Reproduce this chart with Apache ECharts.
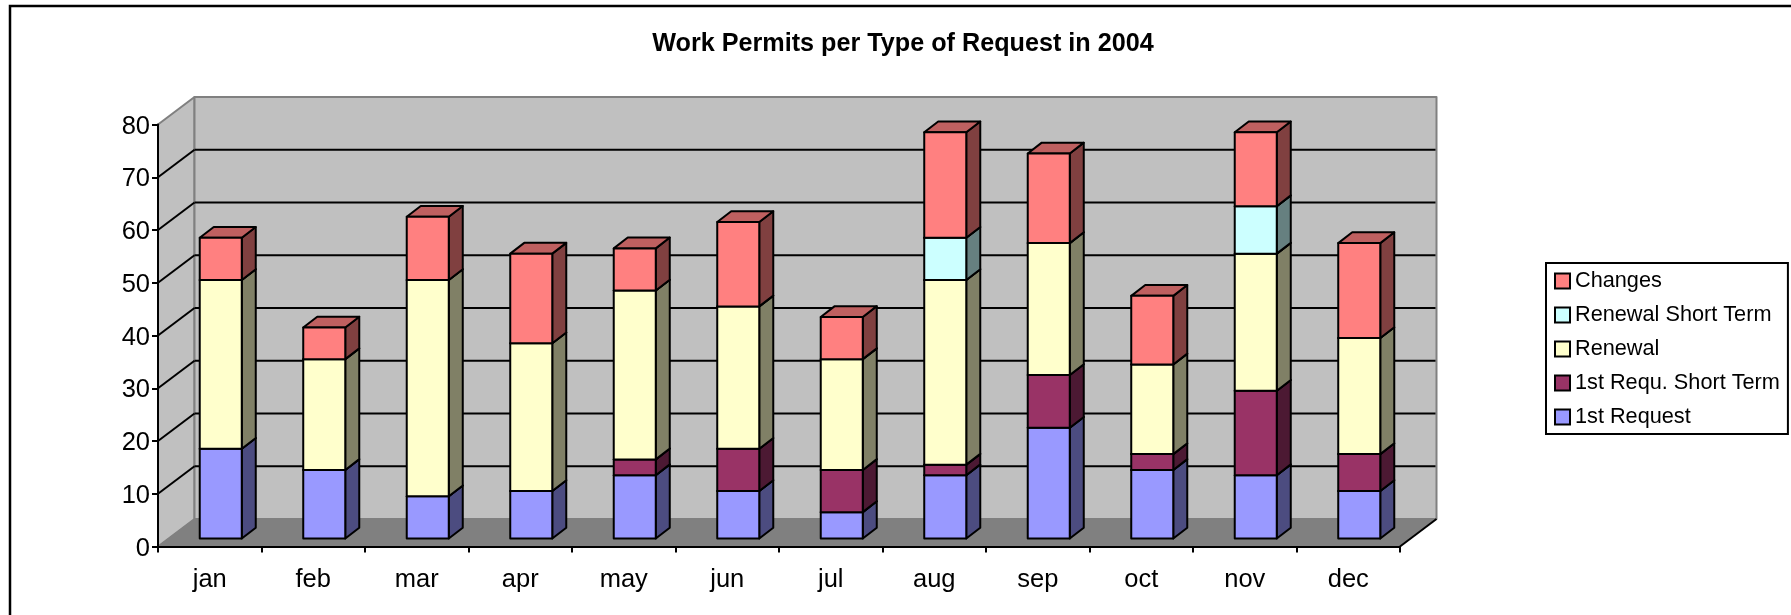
<!DOCTYPE html>
<html>
<head>
<meta charset="utf-8">
<title>Work Permits per Type of Request in 2004</title>
<style>
  html, body { margin: 0; padding: 0; background: #fff; }
  #chart { width: 1791px; height: 615px; }
</style>
<script src="https://cdn.jsdelivr.net/npm/echarts@6/dist/echarts.min.js"></script>
</head>
<body>
<div id="chart"></div>
<script>
var months = ['jan', 'feb', 'mar', 'apr', 'may', 'jun', 'jul', 'aug', 'sep', 'oct', 'nov', 'dec'];

var firstRequest = [17, 13, 8, 9, 12, 9, 5, 12, 21, 13, 12, 9];
var firstShort   = [0, 0, 0, 0, 3, 8, 8, 2, 10, 3, 16, 7];
var renewal      = [32, 21, 41, 28, 32, 27, 21, 35, 25, 17, 26, 22];
var renewalShort = [0, 0, 0, 0, 0, 0, 0, 8, 0, 0, 9, 0];
var changes      = [8, 6, 12, 17, 8, 16, 8, 20, 17, 13, 14, 18];

var stackOrder = [
  { name: '1st Request', values: firstRequest, color: '#9999ff', side: '#4c4c80', top: '#7373bf' },
  { name: '1st Requ. Short Term', values: firstShort, color: '#993366', side: '#4c1933', top: '#73264c' },
  { name: 'Renewal', values: renewal, color: '#ffffcc', side: '#808066', top: '#bfbf99' },
  { name: 'Renewal Short Term', values: renewalShort, color: '#ccffff', side: '#668080', top: '#99bfbf' },
  { name: 'Changes', values: changes, color: '#ff8080', side: '#804040', top: '#bf6060' }
];
var legendOrder = ['Changes', 'Renewal Short Term', 'Renewal', '1st Requ. Short Term', '1st Request'];
var gridValues = [10, 20, 30, 40, 50, 60, 70];

// 3D look: offsets of the depth direction, in pixels
var wallDx = 36.5, wallDy = -27.5;
var barFrontDx = 11, barFrontDy = -8;
var barDx = 14, barDy = -10.8;
var barShare = 0.406;
var edge = 2;

function poly(pts, fill, stroke, width) {
  return {
    type: 'polygon',
    shape: { points: pts },
    style: { fill: fill, stroke: stroke, lineWidth: width, lineJoin: 'round' }
  };
}
function line(a, b, stroke, width) {
  return {
    type: 'line',
    shape: { x1: a[0], y1: a[1], x2: b[0], y2: b[1] },
    style: { stroke: stroke, lineWidth: width }
  };
}

function renderRoom(params, api) {
  var band = api.size([1, 0])[0];
  var first = api.coord([0, 0]);
  var xl = first[0] - band / 2;
  var xr = xl + band * months.length;
  var y0 = first[1];
  var y80 = api.coord([0, 80])[1];
  var kids = [];
  // side wall, back wall, floor
  kids.push(poly([[xl, y0], [xl + wallDx, y0 + wallDy], [xl + wallDx, y80 + wallDy], [xl, y80]], '#c0c0c0', '#808080', 2));
  kids.push(poly([[xl + wallDx, y0 + wallDy], [xr + wallDx, y0 + wallDy], [xr + wallDx, y80 + wallDy], [xl + wallDx, y80 + wallDy]], '#c0c0c0', '#808080', 2));
  kids.push(poly([[xl, y0], [xr, y0], [xr + wallDx, y0 + wallDy], [xl + wallDx, y0 + wallDy]], '#808080', '#808080', 1));
  gridValues.forEach(function (v) {
    var y = api.coord([0, v])[1];
    kids.push(line([xl, y], [xl + wallDx, y + wallDy], '#000', edge));
    kids.push(line([xl + wallDx, y + wallDy], [xr + wallDx - 1, y + wallDy], '#000', edge));
  });
  kids.push(line([xr, y0], [xr + wallDx, y0 + wallDy], '#000', edge));
  return { type: 'group', children: kids };
}

function barRenderer(item) {
  return function (params, api) {
    var low = api.value(1);
    var high = api.value(2);
    if (high <= low) return null;
    var band = api.size([1, 0])[0];
    var w = band * barShare;
    var a = api.coord([api.value(0), low]);
    var b = api.coord([api.value(0), high]);
    var x1 = a[0] - w / 2 + barFrontDx;
    var x2 = x1 + w;
    var yLow = a[1] + barFrontDy;
    var yHigh = b[1] + barFrontDy;
    return {
      type: 'group',
      children: [
        poly([[x2, yLow], [x2 + barDx, yLow + barDy], [x2 + barDx, yHigh + barDy], [x2, yHigh]], item.side, '#000', edge),
        poly([[x1, yHigh], [x2, yHigh], [x2 + barDx, yHigh + barDy], [x1 + barDx, yHigh + barDy]], item.top, '#000', edge),
        poly([[x1, yLow], [x2, yLow], [x2, yHigh], [x1, yHigh]], item.color, '#000', edge)
      ]
    };
  };
}

var series = [{
  type: 'custom',
  name: 'room',
  silent: true,
  z: 1,
  clip: false,
  renderItem: renderRoom,
  data: [[0, 0]],
  encode: { x: 0, y: 1 }
}];

var base = months.map(function () { return 0; });
stackOrder.forEach(function (item) {
  var rows = item.values.map(function (v, i) {
    var row = [i, base[i], base[i] + v];
    base[i] += v;
    return row;
  });
  series.push({
    type: 'custom',
    name: item.name,
    z: 3,
    clip: false,
    itemStyle: { color: item.color, borderColor: '#000', borderWidth: 2 },
    renderItem: barRenderer(item),
    data: rows,
    encode: { x: 0, y: [1, 2] }
  });
});

var myChart = echarts.init(document.getElementById('chart'), null, { renderer: 'canvas' });
myChart.setOption({
  animation: false,
  backgroundColor: '#fff',
  textStyle: { fontFamily: '"Liberation Sans", Arial, sans-serif', color: '#000' },
  title: {
    text: 'Work Permits per Type of Request in 2004',
    left: 898,
    top: 27,
    textAlign: 'center',
    textStyle: { fontSize: 25.2, fontWeight: 'bold', color: '#000', fontFamily: '"Liberation Sans", Arial, sans-serif' }
  },
  legend: {
    orient: 'vertical',
    left: 1546,
    top: 263,
    data: legendOrder,
    itemWidth: 15,
    itemHeight: 15,
    itemGap: 7,
    padding: [4.5, 8, 3.5, 8],
    backgroundColor: '#fff',
    borderColor: '#000',
    borderWidth: 2,
    icon: 'rect',
    selectedMode: false,
    textStyle: { fontSize: 21.7, lineHeight: 22, color: '#000', padding: [5, 0, 0, 0] }
  },
  grid: { left: 158, right: 391, top: 124.5, bottom: 68.5, containLabel: false },
  xAxis: {
    type: 'category',
    data: months,
    boundaryGap: true,
    axisLine: { lineStyle: { color: '#000', width: 2 } },
    axisTick: { show: true, length: 6, lineStyle: { color: '#000', width: 2 } },
    axisLabel: { fontSize: 25.5, color: '#000', margin: 20 },
    z: 2
  },
  yAxis: {
    type: 'value',
    min: 0,
    max: 80,
    interval: 10,
    splitLine: { show: false },
    axisLine: { show: true, lineStyle: { color: '#000', width: 2 } },
    axisTick: { show: true, length: 6, lineStyle: { color: '#000', width: 2 } },
    axisLabel: {
      color: '#000',
      margin: 8,
      formatter: '{v|{value}}',
      rich: { v: { fontSize: 25.5, color: '#000', padding: [4, 0, 0, 0] } }
    },
    z: 2
  },
  series: series,
  graphic: [{
    type: 'polyline',
    silent: true,
    z: 0,
    shape: { points: [[10, 615], [10, 6], [1791, 6]] },
    style: { stroke: '#000', lineWidth: 2.5, fill: null }
  }]
});
</script>
</body>
</html>
